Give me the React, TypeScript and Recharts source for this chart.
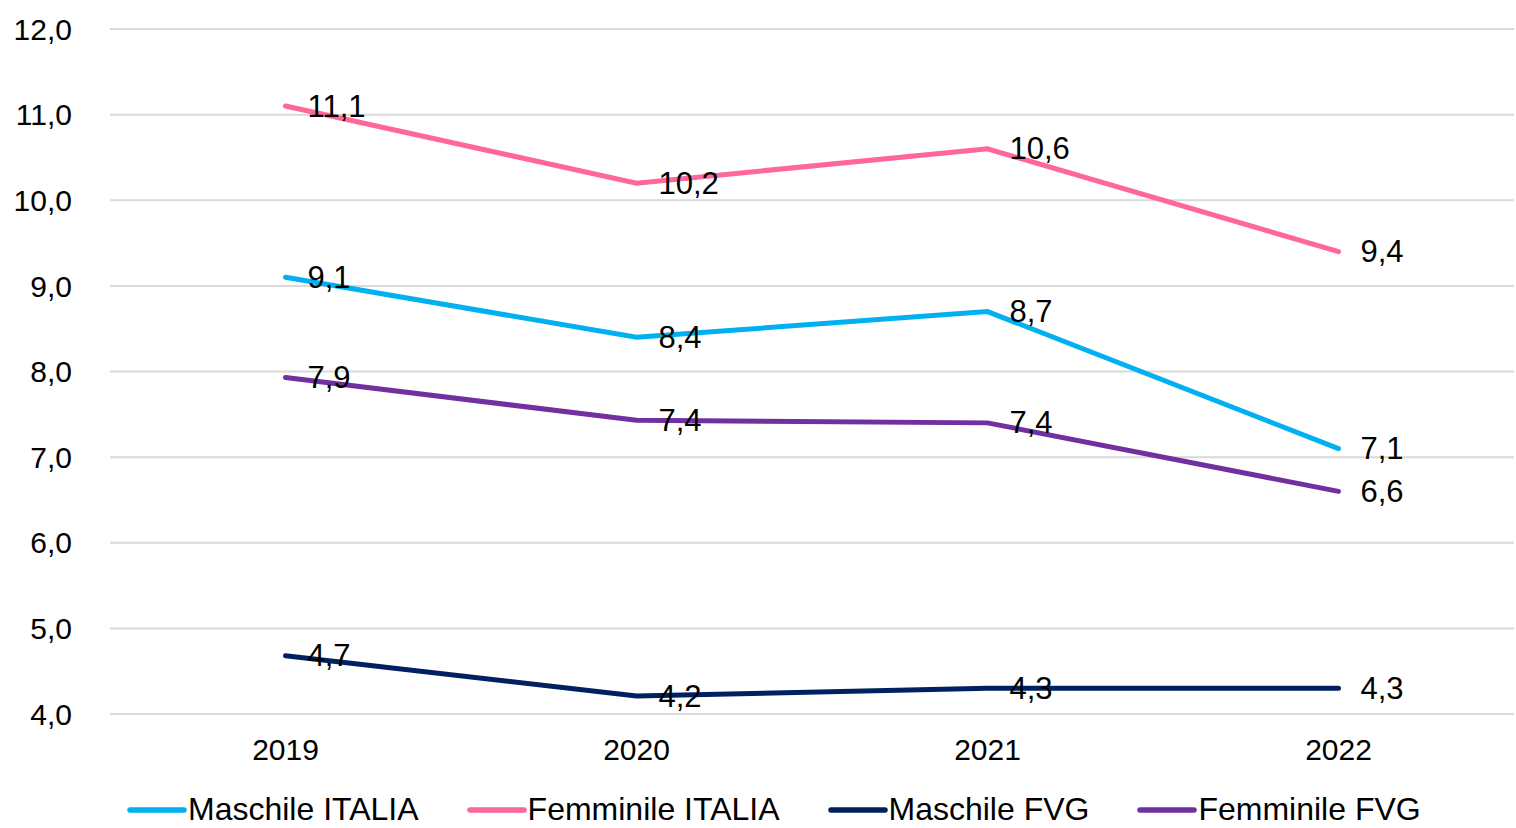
import { LineChart, Line, XAxis, YAxis, CartesianGrid, Legend, LabelList } from 'recharts';

const years = ['2019', '2020', '2021', '2022'];
const maschileItalia = [9.1, 8.4, 8.7, 7.1];
const femminileItalia = [11.1, 10.2, 10.6, 9.4];
const maschileFvg = [4.68, 4.21, 4.3, 4.3];
const femminileFvg = [7.93, 7.43, 7.4, 6.6];
const yTicks = [4, 5, 6, 7, 8, 9, 10, 11, 12];

const series = [
  { key: 'mIt', name: 'Maschile ITALIA', color: '#00B0F0' },
  { key: 'fIt', name: 'Femminile ITALIA', color: '#FF6699' },
  { key: 'mFvg', name: 'Maschile FVG', color: '#002060' },
  { key: 'fFvg', name: 'Femminile FVG', color: '#7030A0' },
];

const data = years.map((year, i) => ({
  year,
  mIt: maschileItalia[i],
  fIt: femminileItalia[i],
  mFvg: maschileFvg[i],
  fFvg: femminileFvg[i],
}));

const FONT = '"Liberation Sans", Arial, sans-serif';
const fmt = (v: number) => v.toFixed(1).replace('.', ',');

// etichetta a destra del punto
const ValueLabel = (props: any) => {
  const { x, y, value } = props;
  return (
    <text x={x + 22} y={y} dominantBaseline="central" textAnchor="start" fontSize={31} fontFamily={FONT} fill="#000">
      {fmt(Number(value))}
    </text>
  );
};

const LegendContent = () => (
  <div style={{ display: 'flex', alignItems: 'center', height: 40, paddingTop: 3, boxSizing: 'border-box', fontFamily: FONT, fontSize: 32, color: '#000', paddingLeft: 127 }}>
    {series.map((s) => (
      <div key={s.key} style={{ display: 'flex', alignItems: 'center', marginRight: 48 }}>
        <svg width={60} height={10}>
          <line x1={3} y1={5} x2={57} y2={5} stroke={s.color} strokeWidth={5.5} strokeLinecap="round" />
        </svg>
        <span style={{ marginLeft: 1, lineHeight: '37px', whiteSpace: 'nowrap' }}>{s.name}</span>
      </div>
    ))}
  </div>
);

export default function App() {
  return (
    <div style={{ position: 'absolute', left: 0, top: 0, background: '#fff' }}>
      <LineChart width={1516} height={828} data={data} margin={{ top: 29, right: 2, bottom: 0, left: 0 }}>
        <CartesianGrid vertical={false} stroke="#d9d9d9" strokeWidth={2} />
        <XAxis
          dataKey="year"
          axisLine={false}
          tickLine={false}
          tickSize={0}
          tickMargin={25}
          height={74}
          padding={{ left: 175.5, right: 175.5 }}
          tick={{ fontSize: 30, fontFamily: FONT, fill: '#000' }}
        />
        <YAxis
          domain={[4, 12]}
          ticks={yTicks}
          axisLine={false}
          tickLine={false}
          tickSize={0}
          tickMargin={38}
          width={110}
          tickFormatter={fmt}
          tick={{ fontSize: 30, fontFamily: FONT, fill: '#000' }}
        />
        <Legend verticalAlign="bottom" height={40} content={<LegendContent />} wrapperStyle={{ left: 0, bottom: 0, width: 1516 }} />
        {series.map((s) => (
          <Line
            key={s.key}
            type="linear"
            dataKey={s.key}
            name={s.name}
            stroke={s.color}
            strokeWidth={5}
            strokeLinecap="round"
            dot={false}
            activeDot={false}
            isAnimationActive={false}
          >
            <LabelList dataKey={s.key} content={<ValueLabel />} />
          </Line>
        ))}
      </LineChart>
    </div>
  );
}
